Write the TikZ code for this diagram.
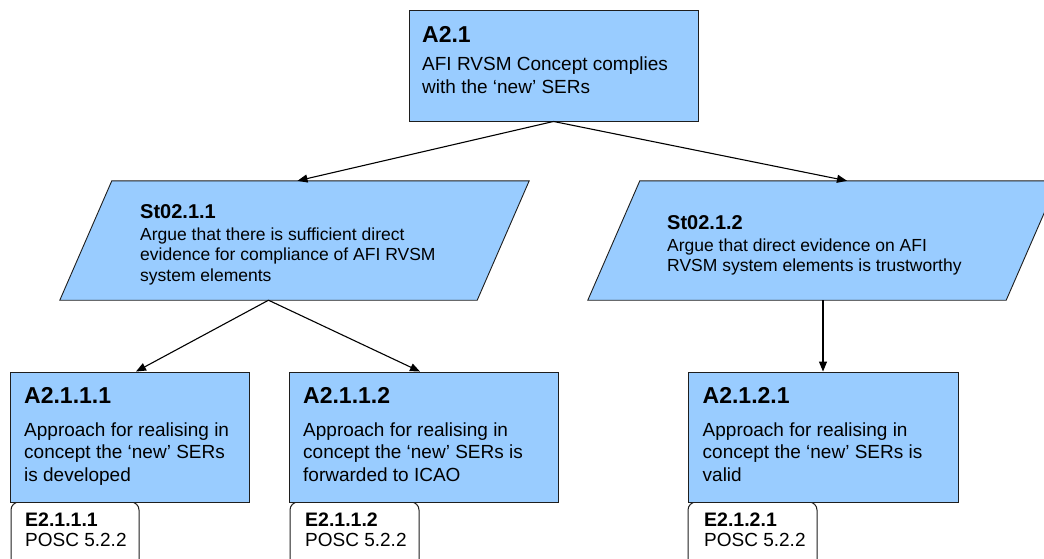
\documentclass[tikz,border=0pt]{standalone}
\usepackage{fontspec}
\setmainfont{Liberation Sans}
\usetikzlibrary{arrows.meta}
\definecolor{boxblue}{RGB}{153,204,255}
\definecolor{edge}{RGB}{30,30,30}
\newcommand{\mylines}[1]{\begin{tabular}[t]{@{}l@{}}#1\end{tabular}}
\tikzset{
  goal/.style={draw=edge, fill=boxblue, line width=0.9pt, inner sep=0pt},
  stratframe/.style={draw=none, inner sep=0pt},
  paraline/.style={draw=edge, fill=boxblue, line width=0.9pt},
  evid/.style={draw=edge, fill=white, rounded corners=8pt, line width=1pt, inner sep=0pt},
  conn/.style={line width=1.1pt, -{Triangle[length=10pt,width=8pt]}},
  gtitle/.style={anchor=base west, inner sep=0pt, font=\bfseries\fontsize{23}{26}\selectfont},
  gbody/.style={anchor=base west, inner sep=0pt, font=\fontsize{19}{22.5}\selectfont},
  stitle/.style={anchor=base west, inner sep=0pt, font=\bfseries\fontsize{20}{23}\selectfont},
  sbody/.style={anchor=base west, inner sep=0pt, font=\fontsize{17.5}{20.5}\selectfont},
  etitle/.style={anchor=base west, inner sep=0pt, font=\bfseries\fontsize{19.5}{21}\selectfont},
  ebody/.style={anchor=base west, inner sep=0pt, font=\fontsize{19}{21}\selectfont},
}
\begin{document}
\begin{tikzpicture}[x=1pt,y=-1pt]
\useasboundingbox (0,0) rectangle (1044,558);
\clip (0,0) rectangle (1044,558);

% evidence boxes (drawn first, under the goal boxes)
\node[evid, minimum width=128, minimum height=73] (e2111) at (75,538.5) {};
\node[evid, minimum width=129, minimum height=73] (e2112) at (354.5,538.5) {};
\node[evid, minimum width=129, minimum height=73] (e2121) at (752.5,538.5) {};

% goal boxes
\node[goal, minimum width=289, minimum height=111] (a21) at (553.5,65.5) {};
\node[goal, minimum width=239, minimum height=130] (a2111) at (129.5,437) {};
\node[goal, minimum width=269, minimum height=130] (a2112) at (423.5,437) {};
\node[goal, minimum width=270, minimum height=130] (a2121) at (823,437) {};

% strategies (parallelograms)
\node[stratframe, minimum width=417, minimum height=119] (st1) at (294.5,240.5) {};
\node[stratframe, minimum width=418, minimum height=119] (st2) at (823,240.5) {};
\draw[paraline] ([xshift=-26pt]st1.south west) -- ([xshift=-26pt]st1.south east)
  -- ([xshift=26pt]st1.north east) -- ([xshift=26pt]st1.north west) -- cycle;
\draw[paraline] ([xshift=-26pt]st2.south west) -- ([xshift=-26pt]st2.south east)
  -- ([xshift=26pt]st2.north east) -- ([xshift=26pt]st2.north west) -- cycle;

% connectors
\draw[conn] (a21.south) -- ([xshift=3pt]st1.north);
\draw[conn] (a21.south) -- ([xshift=24pt]st2.north);
\draw[conn] ([xshift=-26pt]st1.south) -- ([xshift=6.5pt]a2111.north);
\draw[conn] ([xshift=-26pt]st1.south) -- ([xshift=-3.5pt]a2112.north);
\draw[conn] (st2.south) -- (a2121.north);

% texts
\node[gtitle] (a21t) at (422,42.7) {A2.1};
\node[gbody] (a21b) at (422,70.7) {\mylines{AFI RVSM Concept complies\\with the ‘new’ SERs}};

\node[stitle] (st1t) at (140,218.3) {St02.1.1};
\node[sbody] (st1b) at (140,240) {\mylines{Argue that there is sufficient direct\\evidence for compliance of AFI RVSM\\system elements}};

\node[stitle] (st2t) at (667,229) {St02.1.2};
\node[sbody] (st2b) at (667,251) {\mylines{Argue that direct evidence on AFI\\RVSM system elements is trustworthy}};

\node[gtitle] (a2111t) at (24,403.3) {A2.1.1.1};
\node[gbody] (a2111b) at (24,436) {\mylines{Approach for realising in\\concept the ‘new’ SERs\\is developed}};

\node[gtitle] (a2112t) at (303,403.3) {A2.1.1.2};
\node[gbody] (a2112b) at (303,436) {\mylines{Approach for realising in\\concept the ‘new’ SERs is\\forwarded to ICAO}};

\node[gtitle] (a2121t) at (702.5,403.3) {A2.1.2.1};
\node[gbody] (a2121b) at (702.5,436) {\mylines{Approach for realising in\\concept the ‘new’ SERs is\\valid}};

\node[etitle] (e2111t) at (25,526.7) {E2.1.1.1};
\node[ebody] (e2111b) at (25,546.7) {POSC 5.2.2};
\node[etitle] (e2112t) at (305,526.7) {E2.1.1.2};
\node[ebody] (e2112b) at (305,546.7) {POSC 5.2.2};
\node[etitle] (e2121t) at (704,526.7) {E2.1.2.1};
\node[ebody] (e2121b) at (704,546.7) {POSC 5.2.2};
\end{tikzpicture}
\end{document}
